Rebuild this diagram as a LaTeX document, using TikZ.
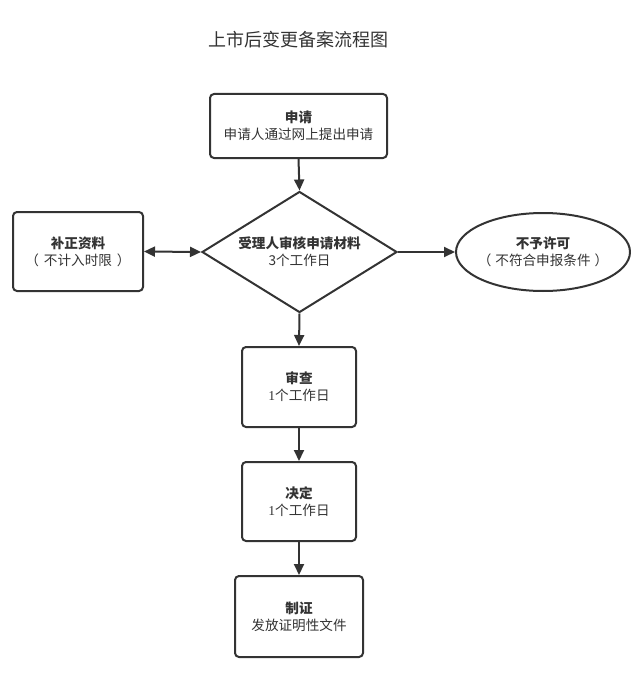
\documentclass[tikz,border=0pt]{standalone}
\usepackage{fontspec}
\setmainfont{Noto Sans CJK SC}
\newfontfamily\numfont{Liberation Serif}
\usetikzlibrary{shapes.geometric,arrows.meta}
\definecolor{ink}{HTML}{333333}
\tikzset{
  base/.style={draw=ink, line width=2pt, fill=white, align=center, text=ink,
    font=\fontsize{13.6}{17}\selectfont, inner sep=0pt},
  box/.style={base, rectangle, rounded corners=4pt},
  conn/.style={draw=ink, line width=2pt, -{Triangle[length=11pt,width=10pt]}},
  dconn/.style={draw=ink, line width=2pt, {Triangle[length=11pt,width=10pt]}-{Triangle[length=11pt,width=10pt]}},
}
\begin{document}
\begin{tikzpicture}[x=1pt,y=-1pt]
\useasboundingbox (0,0) rectangle (630,674);
\node[text=ink, font=\fontsize{18}{21}\selectfont] (title) at (298,40) {上市后变更备案流程图};
\node[box, minimum width=177pt, minimum height=64pt] (apply) at (298.5,126)
  {{\bfseries 申请}\\申请人通过网上提出申请};
\node[base, diamond, aspect=1.61, minimum width=195pt, minimum height=121pt] (review) at (299.5,252)
  {{\bfseries 受理人审核申请材料}\\3个工作日};
\node[box, minimum width=130pt, minimum height=79pt] (fix) at (78,251.5)
  {{\bfseries 补正资料}\\（\hspace{5pt}不计入时限\hspace{5pt}）};
\node[base, ellipse, inner xsep=-30pt, inner ysep=-10pt, minimum width=174pt, minimum height=78pt] (deny) at (543,252)
  {{\bfseries 不予许可}\\（\hspace{4pt}不符合申报条件\hspace{4pt}）};
\node[box, minimum width=114pt, minimum height=80pt] (check) at (299,387)
  {{\bfseries 审查}\\{\numfont 1}个工作日};
\node[box, minimum width=114pt, minimum height=79pt] (decide) at (299,501.5)
  {{\bfseries 决定}\\{\numfont 1}个工作日};
\node[box, minimum width=128pt, minimum height=81pt] (cert) at (299,616.5)
  {{\bfseries 制证}\\发放证明性文件};
\draw[conn] (apply.south) -- (review.north);
\draw[conn] (review.south) -- (check.north);
\draw[conn] (check.south) -- (decide.north);
\draw[conn] (decide.south) -- (cert.north);
\draw[conn] (review.east) -- (deny.west);
\draw[dconn] (fix.east) -- (review.west);
\end{tikzpicture}
\end{document}
